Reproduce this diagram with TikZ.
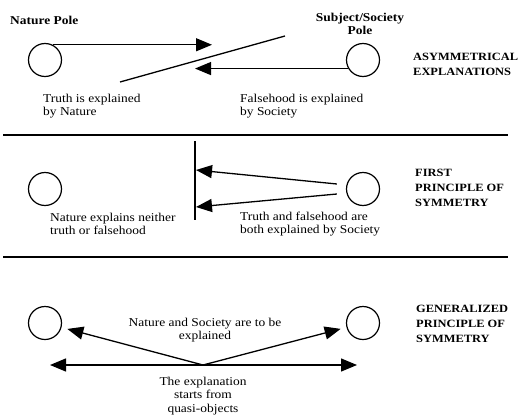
\documentclass[tikz,border=0pt]{standalone}
\usepackage{fontspec}
\setmainfont{Liberation Serif}[FakeStretch=1.12]
\usetikzlibrary{arrows.meta}

\begin{document}
\begin{tikzpicture}[%
      x=1pt, y=-1pt,
      pole/.style={draw, circle, line width=1.2pt, minimum size=33pt, inner sep=0pt},
      expl/.style={line width=1.3pt, -{Triangle[length=16pt,width=13pt]}},
      label/.style={font=\fontsize{12}{13.5}\selectfont, align=left, anchor=west, inner sep=0pt},
      title/.style={font=\fontsize{12}{13.5}\selectfont\bfseries, align=left, anchor=west, inner sep=0pt},
      heading/.style={font=\fontsize{11.1}{15}\selectfont\bfseries, align=left, anchor=west, inner sep=0pt},
      rule/.style={line width=1.8pt},
      ]
      \useasboundingbox (0,0) rectangle (518,417);

      % asymmetrical explanations
      \node [pole] (natureA) at (45,60) {};
      \node [pole] (societyA) at (363,60) {};
      \node [title] (natureLbl) at (10,20) {Nature Pole};
      \node [title, align=center, anchor=center] (societyLbl) at (360,24) {Subject/Society\\Pole};
      \node [heading] (asymLbl) at (413,64) {ASYMMETRICAL\\EXPLANATIONS};
      \coordinate (truthTip) at (212,44);
      \coordinate (falseTip) at (195,74);
      \coordinate (slashL) at (120,82);
      \coordinate (slashR) at (285,36);
      \draw [expl] (natureA.63) -- (natureA.63 -| truthTip);
      \draw [expl] (societyA.210) -- (societyA.210 -| falseTip);
      \draw [line width=1.3pt] (slashL) -- (slashR);
      \node [label] (truthLbl) at (43,106) {Truth is explained\\by Nature};
      \node [label] (falseLbl) at (240,106) {Falsehood is explained\\by Society};
      \coordinate (ruleAL) at (3,135);
      \coordinate (ruleAR) at (508,135);
      \draw [rule] (ruleAL) -- (ruleAR);

      % first principle of symmetry
      \node [pole] (natureB) at (45,189) {};
      \node [pole] (societyB) at (363,189) {};
      \coordinate (barTop) at (195,141);
      \coordinate (barBot) at (195,220);
      \draw [line width=1.3pt] (barTop) -- (barBot);
      \coordinate (upTip) at (196,170);
      \coordinate (lowTip) at (196,207);
      \draw [expl] (societyB.west) ++(-9,-5) coordinate (upStart) (upStart) -- (upTip);
      \draw [expl] (societyB.west) ++(-9,5) coordinate (lowStart) (lowStart) -- (lowTip);
      \node [heading] (firstLbl) at (415,188) {FIRST\\PRINCIPLE OF\\SYMMETRY};
      \node [label] (neitherLbl) at (50,224) {Nature explains neither\\truth or falsehood};
      \node [label] (bothLbl) at (240,224) {Truth and falsehood are\\both explained by Society};
      \coordinate (ruleBL) at (3,257);
      \coordinate (ruleBR) at (508,257);
      \draw [rule] (ruleBL) -- (ruleBR);

      % generalized principle of symmetry
      \node [pole] (natureC) at (45,323) {};
      \node [pole] (societyC) at (363,323) {};
      \coordinate (apex) at (203,365);
      \coordinate (spanL) at (50,365);
      \coordinate (spanR) at (357,365);
      \draw [expl, shorten >=6pt] (apex) -- (natureC);
      \draw [expl, shorten >=6pt] (apex) -- (societyC);
      \draw [line width=1.3pt, {Triangle[length=16pt,width=13pt]}-{Triangle[length=16pt,width=13pt]}] (spanL) -- (spanR);
      \node [heading] (genLbl) at (416,324) {GENERALIZED\\PRINCIPLE OF\\SYMMETRY};
      \node [label, align=center, anchor=center] (toBeLbl) at (205,330) {Nature and Society are to be\\explained};
      \node [label, align=center, anchor=center] (quasiLbl) at (203,396) {The explanation\\starts from\\quasi-objects};
\end{tikzpicture}
\end{document}
